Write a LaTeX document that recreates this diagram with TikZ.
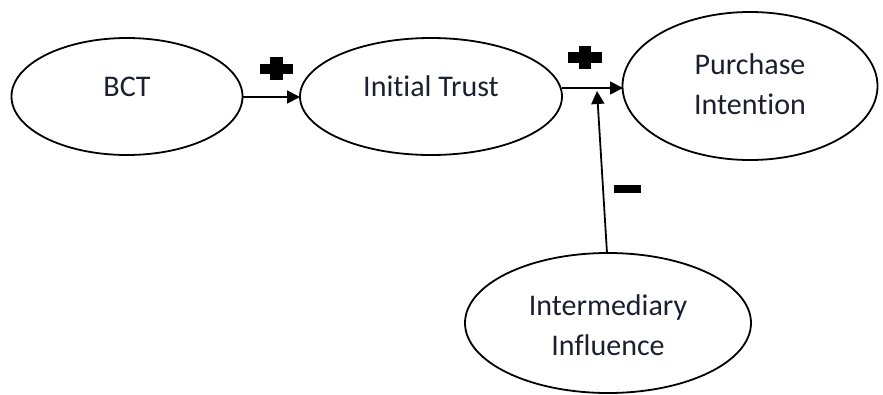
\documentclass[tikz,border=0pt]{standalone}
\usepackage{fontspec}
\setmainfont{Carlito}[Ligatures={NoCommon}]
\usetikzlibrary{shapes.geometric,arrows.meta}
\definecolor{txt}{HTML}{1A2030}
\begin{document}
\begin{tikzpicture}[x=1pt,y=-1pt,
  oval/.style={draw,line width=1.8pt,ellipse,inner sep=0pt},
  lbl/.style={font=\fontsize{30}{40}\selectfont,text=txt,align=center},
  conn/.style={line width=1.8pt,-{Triangle[length=13pt,width=13pt]}},
  sign/.style={fill=black,draw=none}]
\useasboundingbox (0,0) rectangle (883,394);
\node[oval,minimum width=231pt,minimum height=117pt,
  label={[lbl,yshift=10pt]center:BCT}] (bct) at (127,96.5) {};
\node[oval,minimum width=262pt,minimum height=117pt,
  label={[lbl,yshift=10pt]center:Initial Trust}] (it) at (431,96.5) {};
\node[oval,minimum width=255pt,minimum height=148pt,
  label={[lbl,yshift=2pt]center:Purchase\\Intention}] (pi) at (750,86) {};
\node[oval,minimum width=286pt,minimum height=140pt,
  label={[lbl,yshift=-2pt]center:Intermediary\\Influence}] (ii) at (608,323) {};
\coordinate (a1) at (242,97);
\coordinate (b1) at (300,97);
\draw[conn] (a1) -- (b1);
\coordinate (a2) at (562,88);
\coordinate (b2) at (623,88);
\draw[conn] (a2) -- (b2);
\coordinate (c1) at (607,253);
\coordinate (c2) at (597,91);
\draw[conn] (c1) -- (c2);
% plus signs
\fill[sign] (270,57) rectangle (283,80);
\fill[sign] (260,63.5) rectangle (293,73.5);
\fill[sign] (579,46) rectangle (591,69);
\fill[sign] (568,52) rectangle (602,63);
% minus
\fill[sign] (614,185) rectangle (641,192.5);
\end{tikzpicture}
\end{document}
